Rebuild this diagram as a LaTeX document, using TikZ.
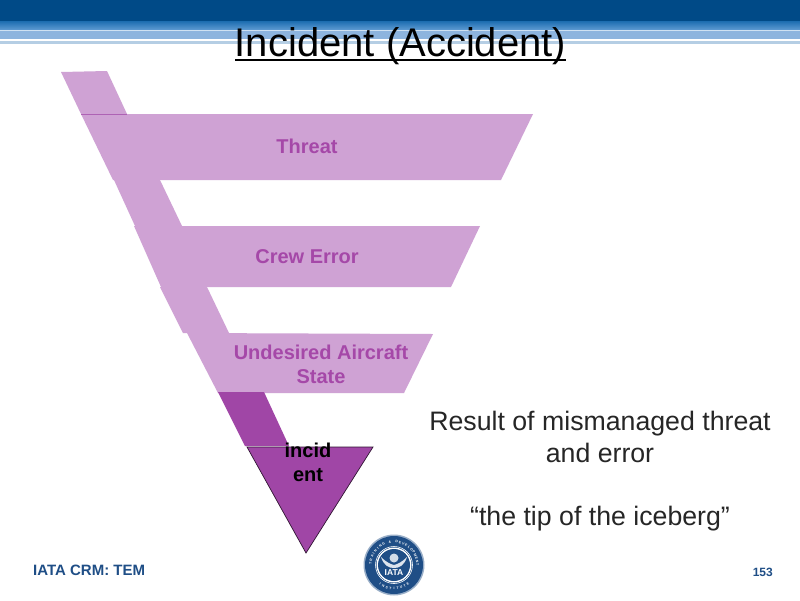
\documentclass[tikz,border=0pt]{standalone}
\usepackage{fontspec}
\setmainfont{Liberation Sans}
\definecolor{navy}{HTML}{004A87}
\definecolor{lilac}{HTML}{CFA2D4}
\definecolor{plum}{HTML}{A046A6}
\definecolor{plumtext}{HTML}{A548A8}
\definecolor{seal}{HTML}{1F4E86}
\definecolor{footer}{HTML}{1F4E86}
\definecolor{stripeA}{HTML}{1C6DB0}
\definecolor{stripeB}{HTML}{5F9BD3}
\definecolor{stripeC}{HTML}{8DB4DE}
\definecolor{stripeD}{HTML}{B5CEE4}
\tikzset{
  band/.style={fill=lilac,draw=none},
  bandlabel/.style={font=\bfseries\fontsize{20}{24}\selectfont,text=plumtext,align=center,inner sep=0pt},
  bodytext/.style={font=\fontsize{26.7}{32}\selectfont,text=black!85,align=center,inner sep=0pt},
  sealchar/.style={font=\bfseries\fontsize{3.4}{4}\selectfont,text=white,inner sep=0pt},
}
\begin{document}
\begin{tikzpicture}[x=1pt,y=-1pt]
\useasboundingbox (0,0) rectangle (800,600);
\fill[white] (0,0) rectangle (800,600);
% header stripes
\fill[navy] (0,0) rectangle (800,21);
\shade[top color=stripeA,bottom color=stripeB] (0,21) rectangle (800,30);
\fill[white!70!stripeB] (0,30) rectangle (800,31);
\fill[stripeC] (0,31) rectangle (800,38.5);
\fill[white] (0,38.5) rectangle (800,40.5);
\fill[stripeD] (0,40.5) rectangle (800,44);
% funnel
\fill[band] (61,72) -- (107,71) -- (127,114) -- (81,114) -- cycle;
\fill[band] (81,114) -- (533,114) -- (501,180) -- (113,180) -- cycle;
\draw[plum!70!lilac,line width=0.6pt] (81,114) -- (127,114);
\fill[band] (114,180) -- (160,180) -- (182,226) -- (135,226) -- cycle;
\fill[band] (134,226) -- (480,226) -- (451,287) -- (161,287) -- cycle;
\fill[band] (160,287) -- (207,287) -- (229,333) -- (183,333) -- cycle;
\fill[band] (187,333) -- (433,334) -- (404,393) -- (218,393) -- cycle;
\fill[plum] (218,392) -- (264,392) -- (289,446) -- (245,446) -- cycle;
\draw[fill=plum,draw=black!70!plum,line width=0.7pt] (247,447) -- (373,447) -- (306,553) -- cycle;
% labels
\node[font=\fontsize{40}{44}\selectfont,text=black,inner sep=0pt,anchor=base] (title) at (400.5,56.5) {Incident (Accident)};
\draw[black,line width=2pt] (235,59.5) -- (566,59.5);
\node[bandlabel] (threat) at (307,146.5) {Threat};
\node[bandlabel] (crew) at (307,257) {Crew Error};
\node[bandlabel] (uas) at (321,364) {Undesired Aircraft\\State};
\node[font=\bfseries\fontsize{20}{24.5}\selectfont,text=black,align=center,inner sep=0pt] (inc) at (308,462.5) {incid\\ent};
\node[bodytext] (res) at (600,437) {Result of mismanaged threat\\and error};
\node[bodytext] (tip) at (600,519) {“the tip of the iceberg”};
\node[font=\bfseries\fontsize{15}{16}\selectfont,text=footer,anchor=base west,inner sep=0pt] (tem) at (33,575) {IATA CRM: TEM};
\node[font=\bfseries\fontsize{12}{14}\selectfont,text=footer,anchor=base east,inner sep=0pt] (pg) at (773,576) {153};
% seal
\fill[seal!45!white] (394,565) circle (30.5);
\fill[seal] (394,565) circle (29);
\draw[white,line width=0.6pt] (394,565) circle (18.5);
\fill[white] (394,565) circle (17.5);
\fill[seal] (394,565) circle (16);
\fill[white!80!seal] (394,558) circle (4.5);
\fill[white!85!seal] (381,557) .. controls (386,562) and (390,564) .. (394,565) .. controls (398,564) and (402,562) .. (407,557) .. controls (404,566) and (399,568) .. (394,568) .. controls (389,568) and (384,566) .. (381,557) -- cycle;
\node[font=\bfseries\fontsize{8.5}{9}\selectfont,text=white,inner sep=0pt] (logo) at (394,573) {IATA};
\foreach \c [count=\i from 0] in {T,R,A,I,N,I,N,G,{},\&,{},D,E,V,E,L,O,P,M,E,N,T}{
  \pgfmathsetmacro{\a}{175-\i*8.33}
  \node[sealchar,rotate=\a-90] at ({394+23.5*cos(\a)},{565-23.5*sin(\a)}) {\c};
}
\foreach \c [count=\i from 0] in {I,N,S,T,I,T,U,T,E}{
  \pgfmathsetmacro{\a}{234+\i*9}
  \node[sealchar,rotate=\a+90] at ({394+23.5*cos(\a)},{565-23.5*sin(\a)}) {\c};
}
\end{tikzpicture}
\end{document}
